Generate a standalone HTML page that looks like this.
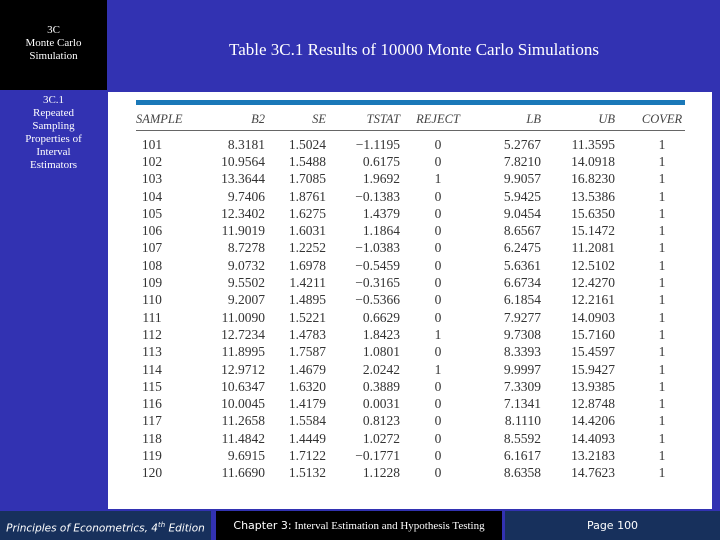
<!DOCTYPE html>
<html><head><meta charset="utf-8"><style>
html,body{margin:0;width:720px;height:540px;overflow:hidden}
body{background:#3232b2;position:relative;font-family:"Liberation Serif",serif}
.abs{position:absolute}
#corner{left:0;top:0;width:107px;height:90px;background:#000;color:#fff;font-size:11px;text-align:center;line-height:13px}
#title{left:108px;top:40px;width:612px;text-align:center;color:#fff;font-size:17px}
#side{left:0;top:94px;width:107px;color:#fff;font-size:11px;text-align:center;line-height:13px}
#panel{left:108px;top:92px;width:604px;height:417px;background:#fff}
.foot{top:511px;height:29px;color:#fff;font-size:12px;line-height:29px;text-align:center;overflow:hidden}
td,th{padding:0;height:17.3px;font-size:13.5px;color:#333;text-align:right}
th{font-style:italic;font-weight:normal;font-size:12.5px;height:22px;color:#444}
tbody tr:first-child td{padding-top:6px}
</style></head><body>
<div id="corner" class="abs"><div style="padding-top:24px">3C<br>Monte Carlo<br>Simulation</div></div>
<div id="title" class="abs">Table 3C.1 Results of 10000 Monte Carlo Simulations</div>
<div id="side" class="abs">3C.1<br>Repeated<br>Sampling<br>Properties of<br>Interval<br>Estimators</div>
<div id="panel" class="abs">
<div class="abs" style="left:28px;top:8px;width:549px;height:5px;background:#1a78b8"></div>
<div class="abs" style="left:28px;top:38px;width:549px;height:1px;background:#666"></div>
<table class="abs" style="left:28px;top:16px;border-collapse:collapse">
<colgroup><col style="width:52px"><col style="width:77px"><col style="width:61px"><col style="width:74px"><col style="width:62px"><col style="width:79px"><col style="width:74px"><col style="width:70px"></colgroup>
<thead><tr><th style="text-align:left">SAMPLE</th><th>B2</th><th>SE</th><th>TSTAT</th><th style="text-align:center;padding-left:14px">REJECT</th><th>LB</th><th>UB</th><th style="text-align:center;padding-left:24px">COVER</th></tr></thead>
<tbody id="tb"></tbody></table>
</div>
<div class="abs foot" style="left:0;width:211px;background:#17305c;font-family:'DejaVu Sans',sans-serif;font-style:italic;font-size:10.5px">Principles of Econometrics, 4<sup style="font-size:7px">th</sup> Edition</div>
<div class="abs foot" style="left:216px;width:286px;background:#000;font-size:11px"><span style="font-family:'DejaVu Sans',sans-serif">Chapter 3:</span> Interval Estimation and Hypothesis Testing</div>
<div class="abs foot" style="left:505px;width:215px;background:#17305c;font-family:'DejaVu Sans',sans-serif;font-size:11px">Page 100</div>
<script>
const samples=[101,102,103,104,105,106,107,108,109,110,111,112,113,114,115,116,117,118,119,120];
const b2=["8.3181","10.9564","13.3644","9.7406","12.3402","11.9019","8.7278","9.0732","9.5502","9.2007","11.0090","12.7234","11.8995","12.9712","10.6347","10.0045","11.2658","11.4842","9.6915","11.6690"];
const se=["1.5024","1.5488","1.7085","1.8761","1.6275","1.6031","1.2252","1.6978","1.4211","1.4895","1.5221","1.4783","1.7587","1.4679","1.6320","1.4179","1.5584","1.4449","1.7122","1.5132"];
const tstat=["−1.1195","0.6175","1.9692","−0.1383","1.4379","1.1864","−1.0383","−0.5459","−0.3165","−0.5366","0.6629","1.8423","1.0801","2.0242","0.3889","0.0031","0.8123","1.0272","−0.1771","1.1228"];
const reject=[0,0,1,0,0,0,0,0,0,0,0,1,0,1,0,0,0,0,0,0];
const lb=["5.2767","7.8210","9.9057","5.9425","9.0454","8.6567","6.2475","5.6361","6.6734","6.1854","7.9277","9.7308","8.3393","9.9997","7.3309","7.1341","8.1110","8.5592","6.1617","8.6358"];
const ub=["11.3595","14.0918","16.8230","13.5386","15.6350","15.1472","11.2081","12.5102","12.4270","12.2161","14.0903","15.7160","15.4597","15.9427","13.9385","12.8748","14.4206","14.4093","13.2183","14.7623"];
const cover=[1,1,1,1,1,1,1,1,1,1,1,1,1,1,1,1,1,1,1,1];
const tb=document.getElementById('tb');
samples.forEach((s,i)=>{
 const tr=document.createElement('tr');
 
 
 const cells=[[s,'center'],[b2[i]],[se[i]],[tstat[i]],[reject[i],'center'],[lb[i]],[ub[i]],[cover[i],'center']];
 cells.forEach((c,j)=>{const td=document.createElement('td');td.textContent=c[0];
  if(c[1]){td.style.textAlign='center';}
  if(j==4)td.style.paddingLeft='14px';
  if(j==7)td.style.paddingLeft='24px';
  if(j==0)td.style.paddingRight='20px';
  tr.appendChild(td);});
 tb.appendChild(tr);
});
</script>
</body></html>
